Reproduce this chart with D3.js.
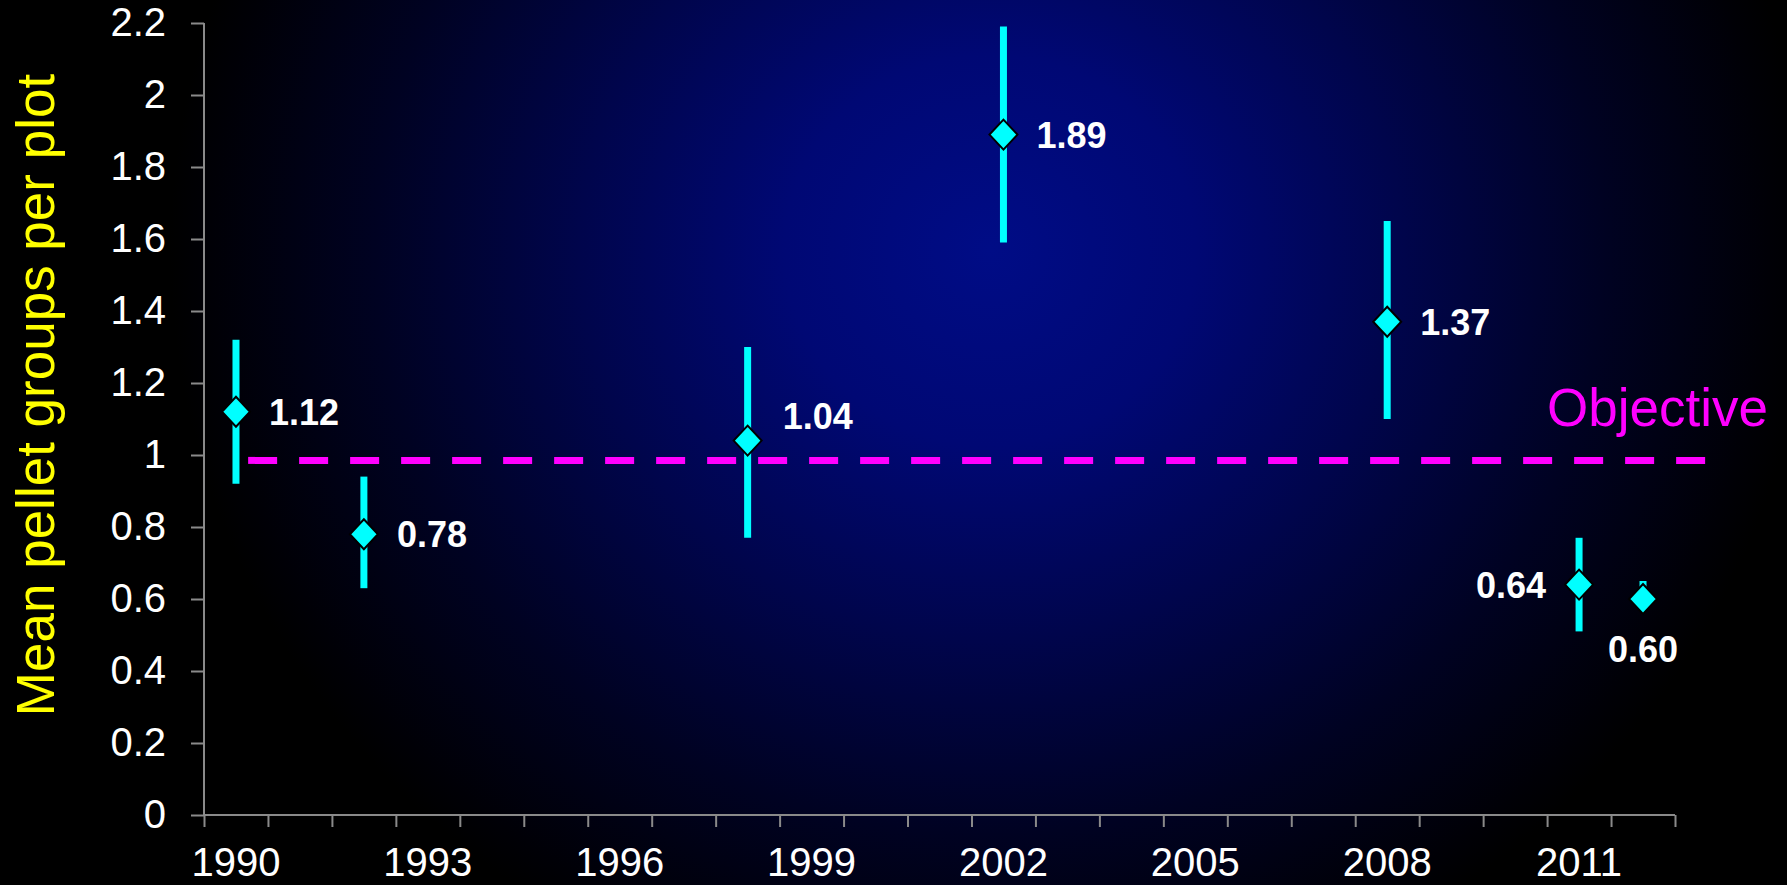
<!DOCTYPE html>
<html>
<head>
<meta charset="utf-8">
<script src="https://cdn.jsdelivr.net/npm/d3@7"></script>
<style>
  html, body { margin: 0; padding: 0; background: #000; }
  svg { display: block; }
  text { font-family: "Liberation Sans", Arial, Helvetica, sans-serif; }
</style>
</head>
<body>
<svg id="chart" width="1787" height="885"></svg>
<script>
// ---- data ----
const years = d3.range(1990, 2013);               // category axis 1990..2012
const pointYears = [1990, 1992, 1998, 2002, 2008, 2011, 2012];
const means      = [1.12, 0.78, 1.04, 1.89, 1.37, 0.64, 0.60];
const upper      = [1.32, 0.94, 1.30, 2.19, 1.65, 0.77, 0.65];
const lower      = [0.92, 0.63, 0.77, 1.59, 1.10, 0.51, 0.57];
const labelPlacement = ["right", "right", "aboveRight", "right", "right", "left", "below"];
const yTicks      = [0, 0.2, 0.4, 0.6, 0.8, 1, 1.2, 1.4, 1.6, 1.8, 2, 2.2];
const yTickLabels = ["0", "0.2", "0.4", "0.6", "0.8", "1", "1.2", "1.4", "1.6", "1.8", "2", "2.2"];
const xLabelYears = [1990, 1993, 1996, 1999, 2002, 2005, 2008, 2011];
const objectiveValue = 0.985;
const objectiveSpan = [1990.19, 2013.11];
const objectiveLabel = "Objective";
const yTitle = "Mean pellet groups per plot";

// ---- layout ----
const W = 1787, H = 885;
const svg = d3.select("#chart");

const defs = svg.append("defs");
const grad = defs.append("radialGradient")
  .attr("id", "bg").attr("gradientUnits", "userSpaceOnUse")
  .attr("cx", 990).attr("cy", 250).attr("r", 820)
  .attr("gradientTransform", "translate(990,250) scale(1,0.95) translate(-990,-250)");
[[0, "#000c86"], [0.25, "#000874"], [0.5, "#00054c"], [0.75, "#000222"], [0.95, "#000006"], [1, "#000000"]]
  .forEach(([o, c]) => grad.append("stop").attr("offset", o).attr("stop-color", c));
svg.append("rect").attr("width", W).attr("height", H).attr("fill", "url(#bg)");

const x = d3.scaleLinear().domain([years[0] - 0.5, years[years.length - 1] + 0.5]).range([204, 1675]);
const y = d3.scaleLinear().domain([0, 2.2]).range([815, 23]);

const axisColor = "#8a8a8a";

// y axis
const yAxis = svg.append("g").attr("transform", `translate(${x.range()[0]},0)`)
  .call(d3.axisLeft(y).tickValues(yTicks).tickFormat((d, i) => yTickLabels[i]).tickSize(13).tickPadding(25));
yAxis.select(".domain").attr("stroke", axisColor).attr("stroke-width", 2).attr("d", `M0,${y(2.2)}V${y(0)}`);
yAxis.selectAll(".tick line").attr("stroke", axisColor).attr("stroke-width", 2);
yAxis.selectAll(".tick text").attr("fill", "#fff").style("font-size", "40px")
  .style("font-family", '"Liberation Sans", Arial, sans-serif');

// x axis (tick marks at category boundaries)
const boundaries = d3.range(years.length + 1).map(i => years[0] - 0.5 + i);
const xAxis = svg.append("g").attr("transform", `translate(0,${y(0)})`)
  .call(d3.axisBottom(x).tickValues(boundaries).tickFormat("").tickSize(12));
xAxis.select(".domain").attr("stroke", axisColor).attr("stroke-width", 2).attr("d", `M${x.range()[0]},0H${x.range()[1]}`);
xAxis.selectAll(".tick line").attr("stroke", axisColor).attr("stroke-width", 2);

svg.append("g").selectAll("text").data(xLabelYears).join("text")
  .attr("x", d => x(d)).attr("y", 876)
  .attr("text-anchor", "middle").attr("fill", "#fff").style("font-size", "40px")
  .text(d => d);

// y title
svg.append("text")
  .attr("transform", `translate(54,395) rotate(-90)`)
  .attr("text-anchor", "middle").attr("fill", "#ffff00").style("font-size", "53px")
  .text(yTitle);

// objective line
svg.append("line")
  .attr("x1", x(objectiveSpan[0])).attr("x2", x(objectiveSpan[1]))
  .attr("y1", y(objectiveValue)).attr("y2", y(objectiveValue))
  .attr("stroke", "#ff00ff").attr("stroke-width", 7).attr("stroke-dasharray", "29,22");
svg.append("text")
  .attr("x", W - 19).attr("y", y(objectiveValue) - 34)
  .attr("text-anchor", "end").attr("fill", "#ff00ff").style("font-size", "53px")
  .text(objectiveLabel);

// data
const pts = pointYears.map((yr, i) => ({ yr, m: means[i], hi: upper[i], lo: lower[i], pos: labelPlacement[i] }));

svg.append("g").selectAll("line").data(pts).join("line")
  .attr("x1", d => x(d.yr)).attr("x2", d => x(d.yr))
  .attr("y1", d => y(d.hi)).attr("y2", d => y(d.lo))
  .attr("stroke", "#00ffff").attr("stroke-width", 7);

svg.append("g").selectAll("path").data(pts).join("path")
  .attr("transform", d => `translate(${x(d.yr)},${y(d.m)})`)
  .attr("d", "M0,-15L14,0L0,15L-14,0Z")
  .attr("fill", "#00ffff").attr("stroke", "#000").attr("stroke-width", 2);

svg.append("g").selectAll("text").data(pts).join("text")
  .attr("fill", "#fff").style("font-size", "36px").style("font-weight", "bold")
  .text(d => d.m.toFixed(2))
  .each(function (d) {
    const t = d3.select(this), px = x(d.yr), py = y(d.m);
    if (d.pos === "right") t.attr("x", px + 33).attr("y", py + 13).attr("text-anchor", "start");
    else if (d.pos === "aboveRight") t.attr("x", px + 35).attr("y", py - 12).attr("text-anchor", "start");
    else if (d.pos === "left") t.attr("x", px - 33).attr("y", py + 13).attr("text-anchor", "end");
    else t.attr("x", px).attr("y", py + 63).attr("text-anchor", "middle");
  });
</script>
</body>
</html>
